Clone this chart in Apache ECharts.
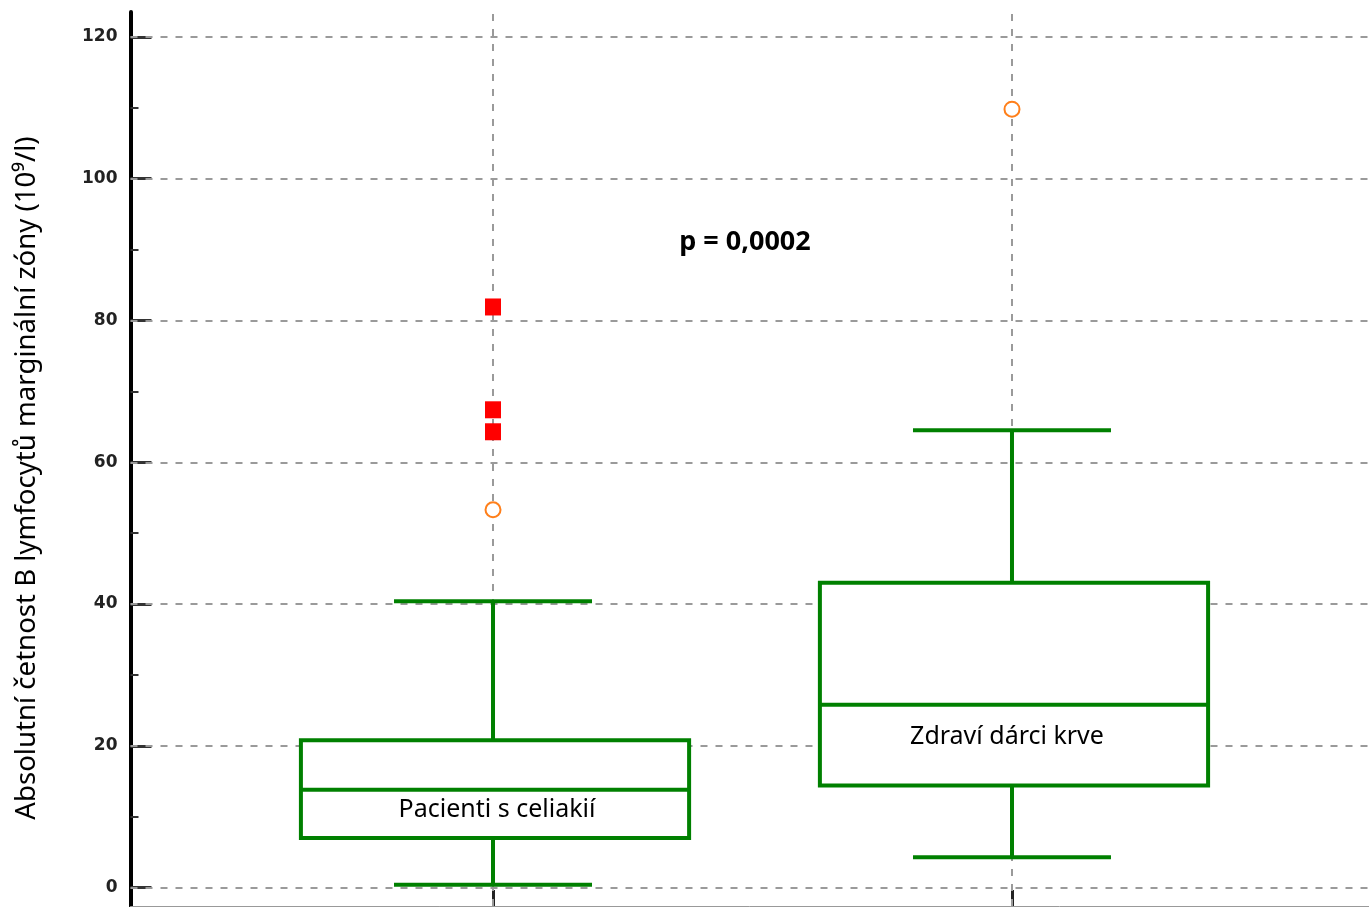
<!DOCTYPE html>
<html>
<head>
<meta charset="utf-8">
<script src="https://cdn.jsdelivr.net/npm/echarts@6/dist/echarts.min.js"></script>
<style>
html, body { margin: 0; padding: 0; background: #fff; }
#chart { width: 1369px; height: 907px; }
</style>
</head>
<body>
<div id="chart"></div>
<script>
// data
var groups = ['Pacienti s celiakií', 'Zdraví dárci krve'];
var groupPos = [1, 2];
// [low whisker, Q1, median, Q3, high whisker]
var boxValues = [
    [0.4, 7.0, 13.8, 20.8, 40.4],
    [4.3, 14.4, 25.8, 43.0, 64.5]
];
var outliersMild = [[1, 53.3], [2, 109.8]];
var outliersExtreme = [[1, 81.9], [1, 67.4], [1, 64.3]];
var yTicks = [0, 20, 40, 60, 80, 100, 120];
var yMinorTicks = [10, 30, 50, 70, 90, 110];
var yName = 'Absolutní četnost B lymfocytů marginální zóny (10⁹/l)';
var pText = 'p = 0,0002';

var boxData = [];
for (var i = 0; i < groups.length; i++) {
    boxData.push([groupPos[i]].concat(boxValues[i]));
}

var gridLines = [];
yTicks.forEach(function (v) { gridLines.push({yAxis: v}); });
groupPos.forEach(function (v) { gridLines.push({xAxis: v}); });

var green = '#008000';
var txtFont = 'Noto Sans';

function renderBox(params, api) {
    var x = api.value(0);
    var pLow = api.coord([x, api.value(1)]);
    var pQ1 = api.coord([x, api.value(2)]);
    var pMed = api.coord([x, api.value(3)]);
    var pQ3 = api.coord([x, api.value(4)]);
    var pHigh = api.coord([x, api.value(5)]);
    var halfBox = api.size([0.748, 0])[0] / 2;
    var halfCap = api.size([0.3815, 0])[0] / 2;
    var cx = pMed[0];
    var st = {stroke: green, lineWidth: 4, fill: null};
    return {
        type: 'group',
        children: [
            {type: 'line', shape: {x1: cx, y1: pLow[1], x2: cx, y2: pQ1[1]}, style: st},
            {type: 'line', shape: {x1: cx, y1: pQ3[1], x2: cx, y2: pHigh[1]}, style: st},
            {type: 'line', shape: {x1: cx - halfCap, y1: pLow[1], x2: cx + halfCap, y2: pLow[1]}, style: st},
            {type: 'line', shape: {x1: cx - halfCap, y1: pHigh[1], x2: cx + halfCap, y2: pHigh[1]}, style: st},
            {type: 'rect', shape: {x: cx - halfBox + 2, y: pQ3[1], width: halfBox * 2, height: pQ1[1] - pQ3[1]},
                style: {stroke: green, lineWidth: 4, fill: '#fff'}},
            {type: 'line', shape: {x1: cx - halfBox + 2, y1: pMed[1], x2: cx + halfBox + 2, y2: pMed[1]}, style: st}
        ]
    };
}

var chart = echarts.init(document.getElementById('chart'));
chart.setOption({
    animation: false,
    backgroundColor: '#fff',
    grid: {left: 130.5, right: 0, top: 12, bottom: 1, containLabel: false},
    xAxis: {
        type: 'value',
        min: 0.3015,
        max: 2.6879,
        axisLine: {show: true, onZero: false, lineStyle: {color: '#999', width: 1}},
        axisTick: {show: true, inside: true, length: 16, customValues: groupPos, lineStyle: {color: '#222', width: 3}},
        axisLabel: {show: false},
        splitLine: {show: false}
    },
    yAxis: [
        {
            type: 'value',
            min: -2.58,
            max: 123.5,
            axisLine: {show: true, onZero: false, lineStyle: {color: '#000', width: 4}},
            axisTick: {show: true, inside: true, length: 21, customValues: yTicks, lineStyle: {color: '#333', width: 3}},
            axisLabel: {
                show: true, customValues: yTicks, margin: 13,
                fontFamily: 'DejaVu Sans', fontWeight: 'bold', fontSize: 17, color: '#222'
            },
            splitLine: {show: false}
        },
        {
            type: 'value',
            min: -2.58,
            max: 123.5,
            position: 'left',
            axisLine: {show: false},
            axisTick: {show: true, inside: true, length: 8, customValues: yMinorTicks, lineStyle: {color: '#333', width: 2}},
            axisLabel: {show: false},
            splitLine: {show: false}
        }
    ],
    graphic: [
        {type: 'text', x: 27, y: 478, rotation: Math.PI / 2,
            style: {text: yName, fontFamily: txtFont, fontSize: 27.6, fill: '#000', align: 'center', verticalAlign: 'middle'}},
        {type: 'text', x: 745, y: 242, style: {text: pText, fontFamily: txtFont, fontWeight: 'bold', fontSize: 27, fill: '#000', align: 'center', verticalAlign: 'middle'}},
        {type: 'text', x: 497, y: 810, style: {text: groups[0], fontFamily: txtFont, fontSize: 25, fill: '#000', align: 'center', verticalAlign: 'middle'}, z: 10},
        {type: 'text', x: 1007, y: 737, style: {text: groups[1], fontFamily: txtFont, fontSize: 25, fill: '#000', align: 'center', verticalAlign: 'middle'}, z: 10}
    ],
    series: [
        {
            type: 'line',
            data: [],
            z: 1,
            markLine: {
                silent: true,
                z: 1,
                symbol: 'none',
                label: {show: false},
                lineStyle: {color: '#9a9a9a', type: [7, 8], width: 2},
                data: gridLines
            }
        },
        {
            type: 'custom',
            z: 3,
            renderItem: renderBox,
            data: boxData
        },
        {
            type: 'scatter',
            z: 4,
            symbol: 'circle',
            symbolSize: 15,
            itemStyle: {color: '#fff', borderColor: '#ff7f1a', borderWidth: 2, opacity: 1},
            data: outliersMild
        },
        {
            type: 'scatter',
            z: 4,
            symbol: 'rect',
            symbolSize: [16, 17],
            itemStyle: {color: '#ff0000', opacity: 1},
            data: outliersExtreme
        }
    ]
});
</script>
</body>
</html>
